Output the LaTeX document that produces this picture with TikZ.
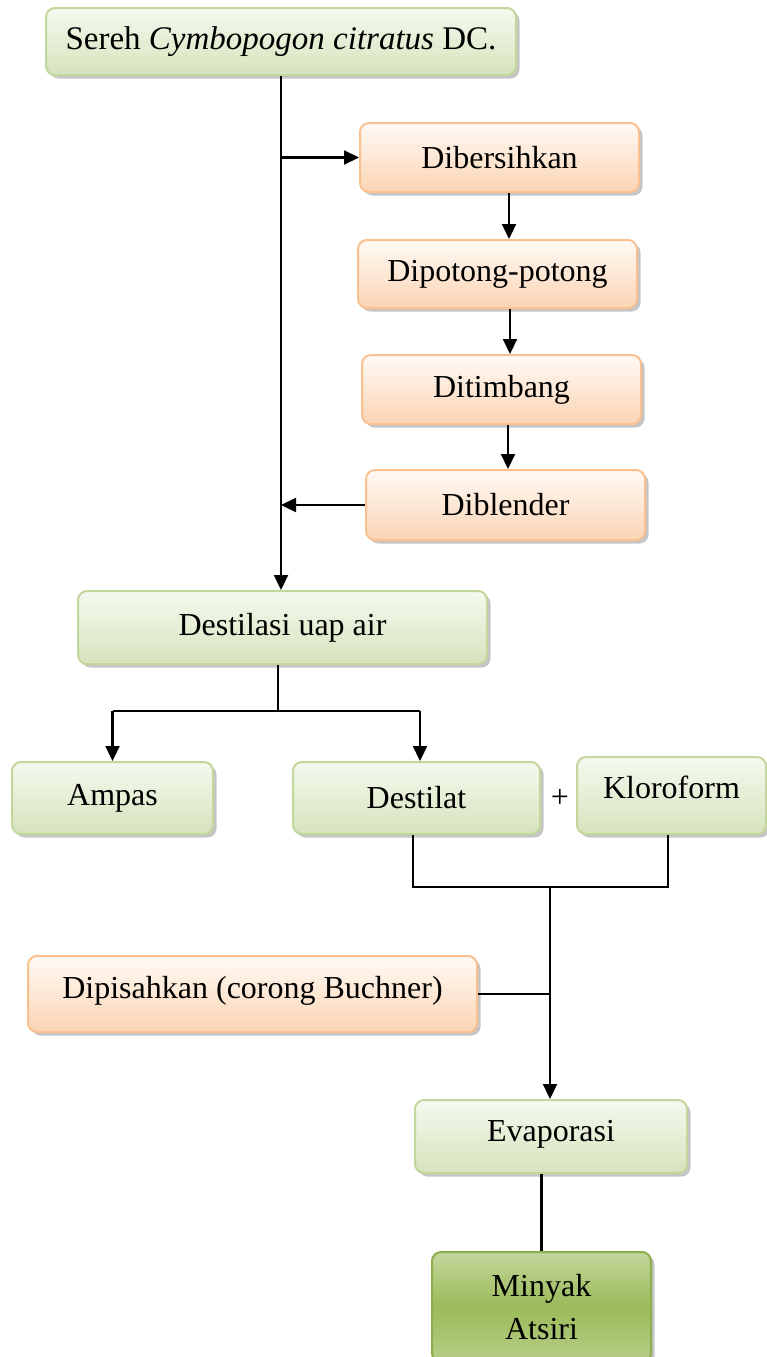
\documentclass[tikz,border=0pt]{standalone}
\usepackage{fontspec}
\setmainfont{Liberation Serif}
\usepackage{tikz}
\usetikzlibrary{calc,arrows.meta,shadows}
\definecolor{greenline}{HTML}{C3D69B}
\definecolor{greentop}{HTML}{F5F9EF}
\definecolor{greenbot}{HTML}{D6E3BC}
\definecolor{orangeline}{HTML}{FAC08F}
\definecolor{orangetop}{HTML}{FFFAF5}
\definecolor{orangebot}{HTML}{FBD4B4}
\definecolor{darkgreen}{HTML}{9BBB59}
\definecolor{darkline}{HTML}{8CAE4E}
\definecolor{darktop}{HTML}{C3D69B}

\begin{document}
\begin{tikzpicture}[x=1pt,y=-1pt]
    % Setup the styles for the boxes
        \tikzset{box style/.style={rectangle,
                                   rounded corners=9pt,
                                   line width=2pt,
                                   font=\fontsize{32}{43}\selectfont,
                                   align=center,
                                   drop shadow={shadow xshift=3.5pt,
                                                shadow yshift=-3.5pt,
                                                fill=black!45}},
                 green box/.style={box style,
                                   draw=greenline,
                                   top color=greentop,
                                   bottom color=greenbot},
                 orange box/.style={box style,
                                    draw=orangeline,
                                    top color=orangetop,
                                    bottom color=orangebot},
                 result box/.style={box style,
                                    draw=darkline,
                                    top color=darktop,
                                    bottom color=darktop!70!darkgreen,
                                    middle color=darkgreen},
                 line style/.style={line width=2.2pt},
                 arrow style/.style={line style,
                                     -{Triangle[length=15pt,width=14pt]}}}
        \useasboundingbox (0,0) rectangle (766,1357);
        % Draw the boxes
        \node[green box, minimum width=470pt, minimum height=67pt, font=\fontsize{33}{43}\selectfont]
            at (281,41.5)   (sereh)     {Sereh \textit{Cymbopogon citratus} DC.};
        \node[orange box, minimum width=279pt, minimum height=69pt]
            at (499.5,157.5) (bersih)   {Dibersihkan};
        \node[orange box, minimum width=279pt, minimum height=68pt]
            at (497.5,274)  (potong)    {Dipotong-potong};
        \node[orange box, minimum width=279pt, minimum height=69pt]
            at (501.5,389.5) (timbang)  {Ditimbang};
        \node[orange box, minimum width=279pt, minimum height=70pt]
            at (505.5,505)  (blender)   {Diblender};
        \node[green box, minimum width=409pt, minimum height=73pt]
            at (282.5,627.5) (destilasi) {Destilasi uap air};
        \node[green box, minimum width=201pt, minimum height=72pt]
            at (112.5,798)  (ampas)     {Ampas};
        \node[green box, minimum width=247pt, minimum height=72pt]
            at (416.5,798)  (destilat)  {Destilat};
        \node[green box, minimum width=189pt, minimum height=77pt, text depth=16pt]
            at (671.5,795.5) (kloroform) {Kloroform};
        \node[font=\fontsize{32}{40}\selectfont]
            at (560,798)    (plus)      {+};
        \node[orange box, minimum width=449pt, minimum height=76pt, text depth=14pt]
            at (252.5,994)  (dipisah)   {Dipisahkan (corong Buchner)};
        \node[green box, minimum width=272pt, minimum height=73pt, text depth=12pt]
            at (551,1136.5) (evap)      {Evaporasi};
        \node[result box, minimum width=219pt, minimum height=110pt]
            at (541.5,1307) (minyak)    {Minyak\\Atsiri};
        % Join points
        \coordinate (split) at (278,711);
        \coordinate (join)  at (550,887);
        % Connect the boxes
        \draw[arrow style] (sereh.south) -- (sereh.south |- destilasi.north);
        \draw[arrow style] (sereh.south |- bersih.west) -- (bersih.west);
        \draw[arrow style] ([xshift=9.5pt]bersih.south)
            -- ([xshift=9.5pt]bersih.south |- potong.north);
        \draw[arrow style] ([xshift=12.5pt]potong.south)
            -- ([xshift=12.5pt]potong.south |- timbang.north);
        \draw[arrow style] ([xshift=6.5pt]timbang.south)
            -- ([xshift=6.5pt]timbang.south |- blender.north);
        \draw[arrow style] (blender.west) -- (blender.west -| sereh.south);
        \draw[line style] (destilasi.south -| split) -- (split);
        \draw[line style] (ampas.north |- split) -- ([xshift=3.5pt]destilat.north |- split);
        \draw[arrow style] (ampas.north |- split) -- (ampas.north);
        \draw[arrow style] ([xshift=3.5pt]destilat.north |- split)
            -- ([xshift=3.5pt]destilat.north);
        \draw[line style] ([xshift=-3.5pt]destilat.south) -- ([xshift=-3.5pt]destilat.south |- join)
            -- ([xshift=-3.5pt]kloroform.south |- join) -- ([xshift=-3.5pt]kloroform.south);
        \draw[arrow style] (join) -- (join |- evap.north);
        \draw[line style] (dipisah.east) -- (dipisah.east -| join);
        \draw[line style] (minyak.north |- evap.south) -- (minyak.north);
\end{tikzpicture}
\end{document}
